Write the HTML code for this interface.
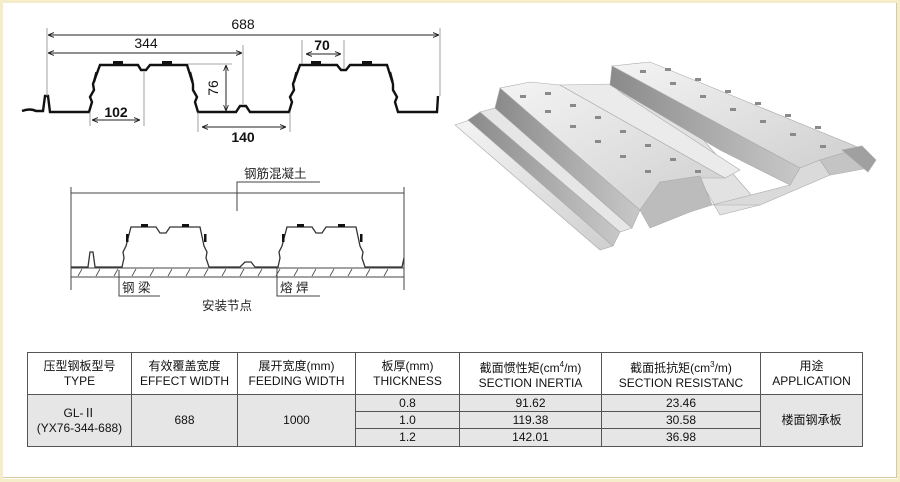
<!DOCTYPE html>
<html><head><meta charset="utf-8"><style>
body{margin:0;width:900px;height:482px;overflow:hidden;background:#fff;font-family:"Liberation Sans","Noto Sans CJK SC",sans-serif;}
.frame{position:absolute;left:0;top:0;width:894px;height:476px;border:3px solid #f5ecc9;}
.inner{position:absolute;left:3px;top:3px;width:893px;height:474px;border-right:1px solid #d9c9a0;border-bottom:1px solid #d9c9a0;}
table{position:absolute;left:27px;top:352px;border-collapse:collapse;font-size:12px;color:#111;text-align:center;}
td{border:1px solid #555;padding:0;line-height:15px;}
.g td.d{background:#e6e6e6;}
</style></head><body>
<div class="frame"></div><div class="inner"></div>
<svg width="900" height="482" style="position:absolute;left:0;top:0" font-family="Liberation Sans, Noto Sans CJK SC, sans-serif">
<defs>
<marker id="a" viewBox="0 0 10 10" refX="10" refY="5" markerWidth="6" markerHeight="6" orient="auto-start-reverse"><path d="M0,1L10,5L0,9" fill="none" stroke="#222" stroke-width="1.5"/></marker>
<linearGradient id="m1" x1="0" y1="0" x2="1" y2="1"><stop offset="0" stop-color="#f4f4f4"/><stop offset="1" stop-color="#cfcfcf"/></linearGradient>
<linearGradient id="m2" x1="0" y1="0" x2="1" y2="0"><stop offset="0" stop-color="#8a8a8a"/><stop offset="1" stop-color="#c8c8c8"/></linearGradient>
</defs>
<!-- top profile -->
<g fill="none" stroke="#111" stroke-width="2.4">
<path d="M22,111 Q30,108 36,111 L43,111 L45,96 L48,96 L50,112 L89,112 L92,102 L90,97 L94,90 L93,84 L100,65 L120,65 L138,65 L141,70 L146,70 L150,65 L187,65 L193,84 L193,90 L197,97 L195,102 L198,112 L236,112 L240,106 L246,106 L250,112 L289,112 L292,102 L290,97 L294,90 L293,84 L300,65 L337,65 L341,70 L346,70 L350,65 L387,65 L393,84 L393,90 L397,97 L395,102 L398,112 L437,112 L438,96"/>
</g>
<g fill="#111"><rect x="113" y="61" width="10" height="3"/><rect x="162" y="61" width="10" height="3"/><rect x="311" y="61" width="10" height="3"/><rect x="362" y="61" width="10" height="3"/>
<rect x="94" y="72" width="2.5" height="10" transform="rotate(15 95 77)"/><rect x="190" y="72" width="2.5" height="10" transform="rotate(-15 191 77)"/><rect x="294" y="72" width="2.5" height="10" transform="rotate(15 295 77)"/><rect x="390" y="72" width="2.5" height="10" transform="rotate(-15 391 77)"/></g>
<g stroke="#888" stroke-width="0.8" fill="none">
<line x1="47" y1="28" x2="47" y2="96"/><line x1="440" y1="28" x2="440" y2="96"/>
<line x1="243" y1="45" x2="243" y2="104"/><line x1="344" y1="40" x2="344" y2="68"/><line x1="302" y1="40" x2="302" y2="64"/>
<line x1="144" y1="72" x2="144" y2="126"/><line x1="90" y1="112" x2="90" y2="126"/>
<line x1="198" y1="112" x2="198" y2="132"/><line x1="290" y1="112" x2="290" y2="132"/>
<line x1="188" y1="64" x2="232" y2="64"/>
</g>
<g stroke="#222" stroke-width="1" marker-start="url(#a)" marker-end="url(#a)">
<line x1="48" y1="35" x2="439" y2="35"/><line x1="48" y1="53" x2="242" y2="53"/><line x1="306" y1="54" x2="341" y2="54"/>
<line x1="226" y1="65" x2="226" y2="111"/><line x1="92" y1="120" x2="140" y2="120"/><line x1="202" y1="127" x2="286" y2="127"/>
</g>
<g fill="#111" font-size="14" text-anchor="middle">
<text x="243" y="29">688</text><text x="146" y="48">344</text>
<text x="322" y="50" font-weight="bold">70</text>
<text x="116" y="117" font-weight="bold">102</text><text x="243" y="142" font-weight="bold">140</text>
<text transform="translate(218,88) rotate(-90)">76</text>
</g>
<!-- install drawing -->
<g stroke="#444" stroke-width="1" fill="none">
<line x1="71" y1="187" x2="71" y2="290"/><line x1="404" y1="187" x2="404" y2="290"/>
<line x1="71" y1="193" x2="404" y2="193"/>
<polyline points="237,211 237,182 320,182"/>
<line x1="71" y1="268" x2="404" y2="268"/><line x1="71" y1="277" x2="404" y2="277"/>
<polyline points="119,270 119,296 160,296"/><polyline points="277,268 277,296 320,296"/>
<path d="M71,267 L88,267 L90,252 L93,252 L95,267 L122,267 L124,258 L123,252 L126,246 L131,227 L156,227 L160,233 L166,233 L170,227 L200,227 L204,246 L207,252 L206,258 L209,267 L240,267 L245,262 L251,262 L255,267 L278,267 L280,258 L279,252 L282,246 L287,227 L312,227 L316,233 L322,233 L326,227 L356,227 L360,246 L363,252 L362,258 L365,267 L402,267 L404,258" stroke="#333" stroke-width="1.3"/>
</g>
<g stroke="#444" stroke-width="0.8">
<line x1="78" y1="276" x2="82" y2="269"/><line x1="96" y1="276" x2="100" y2="269"/><line x1="114" y1="276" x2="118" y2="269"/><line x1="132" y1="276" x2="136" y2="269"/><line x1="150" y1="276" x2="154" y2="269"/><line x1="168" y1="276" x2="172" y2="269"/><line x1="186" y1="276" x2="190" y2="269"/><line x1="204" y1="276" x2="208" y2="269"/><line x1="222" y1="276" x2="226" y2="269"/><line x1="240" y1="276" x2="244" y2="269"/><line x1="258" y1="276" x2="262" y2="269"/><line x1="276" y1="276" x2="280" y2="269"/><line x1="294" y1="276" x2="298" y2="269"/><line x1="312" y1="276" x2="316" y2="269"/><line x1="330" y1="276" x2="334" y2="269"/><line x1="348" y1="276" x2="352" y2="269"/><line x1="366" y1="276" x2="370" y2="269"/><line x1="384" y1="276" x2="388" y2="269"/>
</g>
<g fill="#111"><rect x="141" y="224" width="7" height="3"/><rect x="182" y="224" width="7" height="3"/><rect x="297" y="224" width="7" height="3"/><rect x="338" y="224" width="7" height="3"/>
<rect x="126" y="234" width="2.5" height="8"/><rect x="204" y="234" width="2.5" height="8"/><rect x="282" y="234" width="2.5" height="8"/><rect x="360" y="234" width="2.5" height="8"/></g>
<g fill="#222" font-size="12.5"><text x="244" y="178">钢筋混凝土</text><text x="122" y="292">钢 梁</text><text x="280" y="292">熔 焊</text><text x="202" y="310">安装节点</text></g>
<!-- 3D deck -->
<g stroke="#aaa" stroke-width="0.6">
<polygon points="455,125 470,120 613,246 600,250" fill="url(#m1)"/>
<polygon points="468,120 480,112 620,232 613,246" fill="url(#m2)"/>
<polygon points="480,112 495,108 632,228 620,232" fill="#e6e6e6"/>
<polygon points="600,95 660,90 760,205 720,215 700,180" fill="#e2e2e2"/>
<polygon points="495,108 500,88 640,210 632,228" fill="url(#m2)"/>
<polygon points="500,88 530,82 560,85 725,178 700,178 660,182 640,210" fill="url(#m1)"/>
<polygon points="640,210 660,182 700,176 712,205 690,212 650,228" fill="#bcbcbc"/>
<polygon points="560,85 612,84 620,92 740,170 725,178" fill="#ebebeb"/>
<polygon points="610,85 612,66 800,168 790,185 720,150" fill="url(#m2)"/>
<polygon points="612,66 650,62 860,148 820,160 800,168" fill="url(#m1)"/>
<polygon points="712,205 760,205 830,175 820,160 800,168 790,185" fill="#dadada"/>
<polygon points="820,160 860,148 868,168 842,173 830,175" fill="#c4c4c4"/>
<polygon points="842,150 862,146 876,160 868,172" fill="#a0a0a0"/>
</g>
<g fill="#8a8a8a">
<rect x="520" y="95" width="6" height="3"/><rect x="545" y="110" width="6" height="3"/><rect x="570" y="125" width="6" height="3"/><rect x="595" y="140" width="6" height="3"/><rect x="620" y="155" width="6" height="3"/><rect x="645" y="170" width="6" height="3"/>
<rect x="545" y="92" width="6" height="3"/><rect x="570" y="104" width="6" height="3"/><rect x="595" y="116" width="6" height="3"/><rect x="620" y="130" width="6" height="3"/><rect x="645" y="144" width="6" height="3"/><rect x="670" y="158" width="6" height="3"/><rect x="695" y="170" width="6" height="3"/>
<rect x="640" y="70" width="6" height="3"/><rect x="670" y="82" width="6" height="3"/><rect x="700" y="95" width="6" height="3"/><rect x="730" y="108" width="6" height="3"/><rect x="760" y="120" width="6" height="3"/><rect x="790" y="133" width="6" height="3"/><rect x="820" y="145" width="6" height="3"/>
<rect x="665" y="68" width="6" height="3"/><rect x="695" y="78" width="6" height="3"/><rect x="725" y="90" width="6" height="3"/><rect x="755" y="102" width="6" height="3"/><rect x="785" y="114" width="6" height="3"/><rect x="815" y="126" width="6" height="3"/>
</g>
</svg>
<table>
<tr style="height:42px"><td style="width:103px">压型钢板型号<br>TYPE</td><td style="width:105px">有效覆盖宽度<br>EFFECT WIDTH</td><td style="width:117px">展开宽度(mm)<br>FEEDING WIDTH</td><td style="width:103px">板厚(mm)<br>THICKNESS</td><td style="width:141px">截面惯性矩(cm<sup style="font-size:8px">4</sup>/m)<br>SECTION INERTIA</td><td style="width:158px">截面抵抗矩(cm<sup style="font-size:8px">3</sup>/m)<br>SECTION RESISTANC</td><td style="width:101px">用途<br>APPLICATION</td></tr>
<tr class="g" style="height:17px"><td class="d" rowspan="3">GL-Ⅱ<br>(YX76-344-688)</td><td class="d" rowspan="3">688</td><td class="d" rowspan="3">1000</td><td class="d">0.8</td><td class="d">91.62</td><td class="d">23.46</td><td class="d" rowspan="3">楼面钢承板</td></tr>
<tr class="g" style="height:17px"><td class="d">1.0</td><td class="d">119.38</td><td class="d">30.58</td></tr>
<tr class="g" style="height:18px"><td class="d">1.2</td><td class="d">142.01</td><td class="d">36.98</td></tr>
</table>
</body></html>
